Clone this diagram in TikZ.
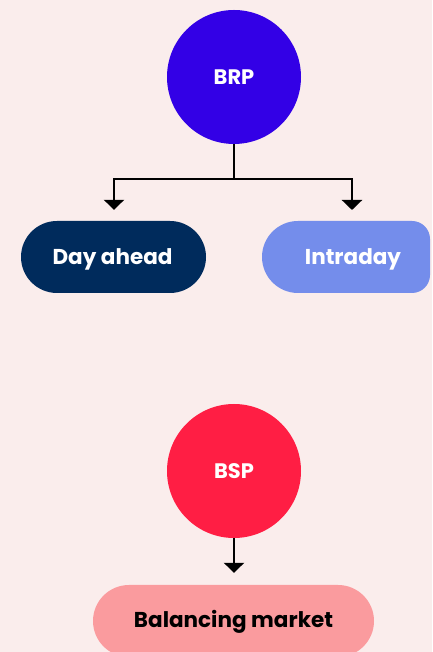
\documentclass[tikz,border=0pt]{standalone}
\usepackage{fontspec}
\setmainfont{Poppins}[BoldFont={Poppins Bold}]
\usetikzlibrary{arrows.meta}
\definecolor{bg}{RGB}{250,237,236}
\definecolor{brpc}{RGB}{51,0,230}
\definecolor{dayc}{RGB}{0,43,92}
\definecolor{intrac}{RGB}{116,141,235}
\definecolor{bspc}{RGB}{255,30,68}
\definecolor{balc}{RGB}{250,155,158}
\begin{document}
\begin{tikzpicture}[x=1pt,y=1pt,
  circ/.style={circle,minimum size=134pt,inner sep=0pt,font=\fontsize{21}{24}\selectfont\bfseries,text=white},
  pilltext/.style={font=\fontsize{21.5}{24}\selectfont\bfseries,text depth=0pt},
  pill/.style={rectangle,rounded corners=36pt,minimum height=72pt,inner sep=0pt},
  conn/.style={line width=2.8pt,draw=black},
  tip/.style={-{Triangle[width=20pt,length=10pt]}}]
\fill[bg] (0,0) rectangle (432,652);
\useasboundingbox (0,0) rectangle (432,652);
\node[circ,fill=brpc] (brp) at (234,575) {BRP};
\node[pill,fill=dayc,minimum width=185pt] (day) at (113.5,395) {};
\node[pilltext,text=white] (daytxt) at (112.5,395) {Day ahead};
\fill[intrac] (298,431) -- (412,431) arc[start angle=90,end angle=0,radius=18] -- (430,377) arc[start angle=0,end angle=-90,radius=18] -- (298,359) arc[start angle=270,end angle=90,radius=36] -- cycle;
\node[pilltext,text=white,minimum height=72pt,inner sep=0pt] (intra) at (353,395) {Intraday};
\node[circ,fill=bspc] (bsp) at (234,181) {BSP};
\node[pill,fill=balc,minimum width=281pt] (bal) at (233.5,31) {};
\node[pilltext,text=black] (baltxt) at (233.5,33) {Balancing market};
\coordinate (fork) at (234,473);
\draw[conn] (brp.south) -- (fork);
\draw[conn,tip,shorten >=11pt] (fork) -| (day.north -| 114,0);
\draw[conn,tip,shorten >=11pt] (fork) -| (352,431);
\draw[conn,tip,shorten >=12pt] (bsp.south) -- (bal.north -| bsp.south);
\end{tikzpicture}
\end{document}
